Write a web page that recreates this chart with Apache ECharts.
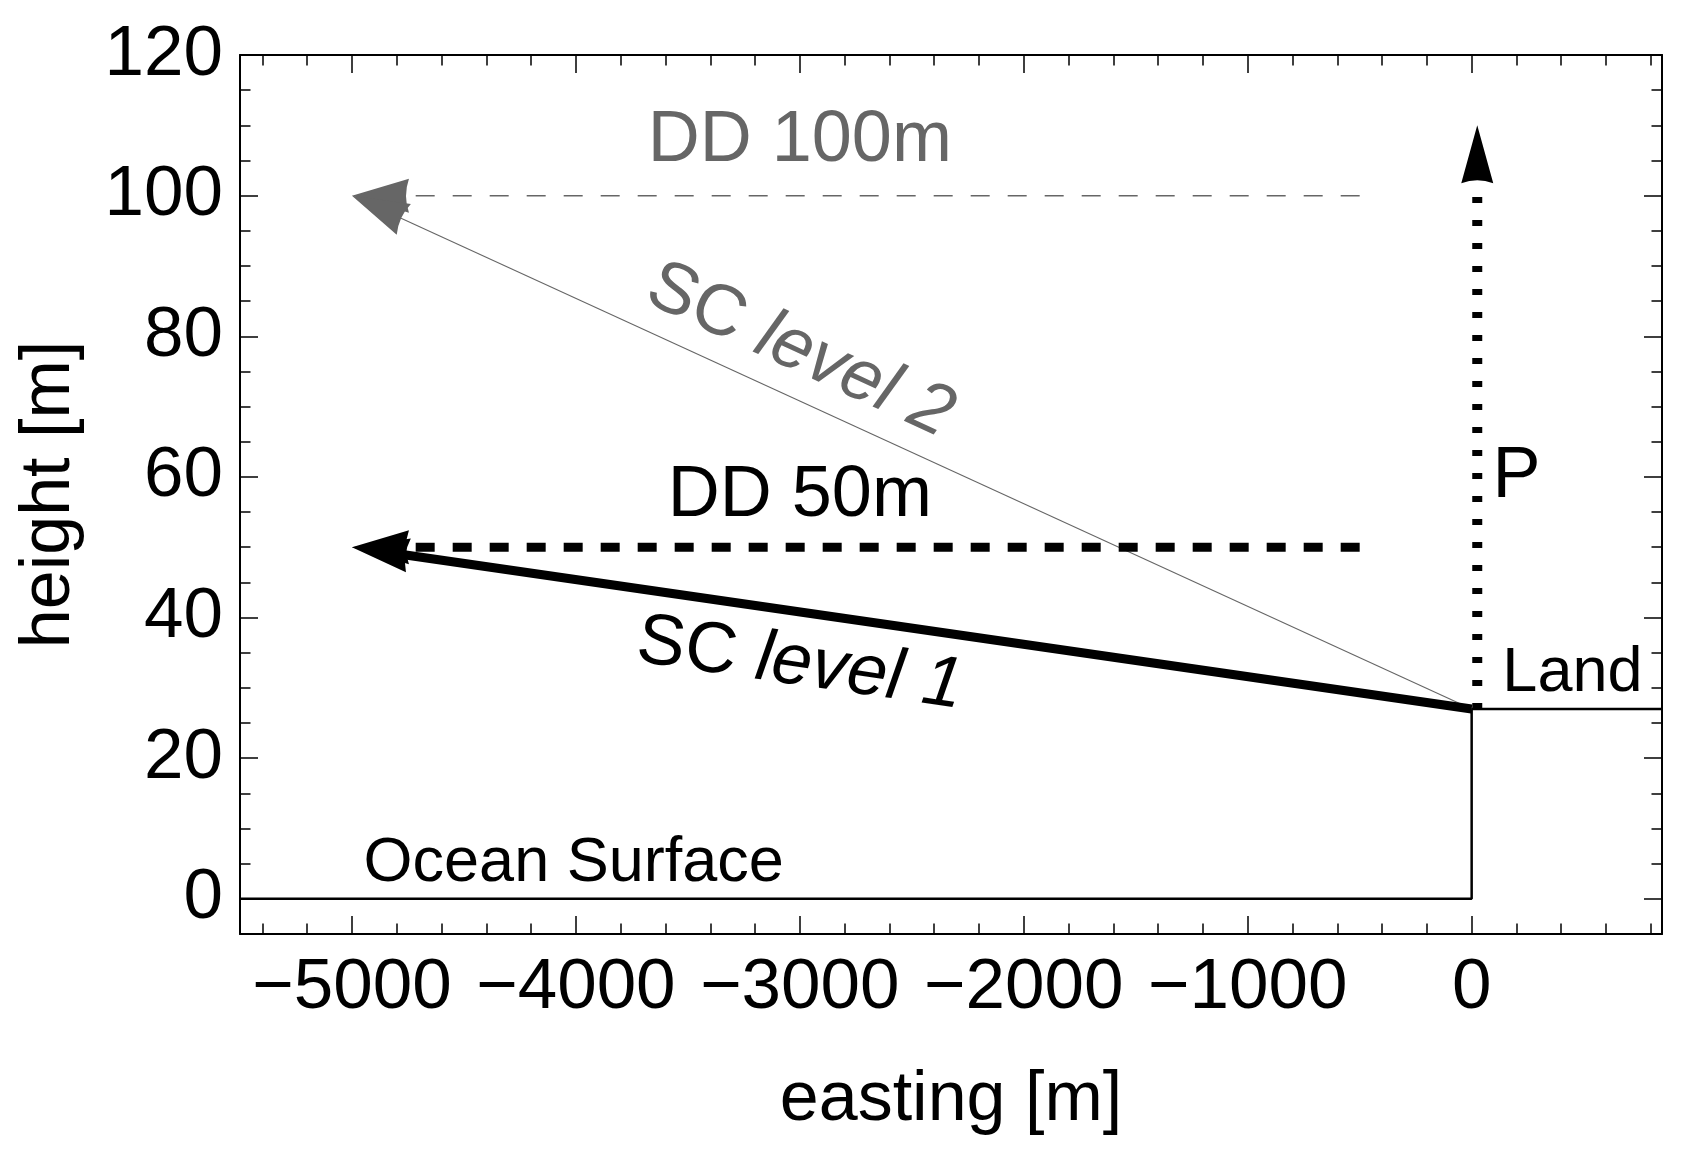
<!DOCTYPE html>
<html>
<head>
<meta charset="utf-8">
<title>height vs easting</title>
<script src="https://cdn.jsdelivr.net/npm/echarts@6/dist/echarts.min.js"></script>
<style>
  html, body { margin: 0; padding: 0; background: #fff; }
  #main { width: 1687px; height: 1156px; }
</style>
</head>
<body>
<div id="main"></div>
<script>
// axis ranges and ticks
var xRange = [-5500, 850];
var yRange = [-5, 120];
var xMajor = [-5000, -4000, -3000, -2000, -1000, 0];
var xMinor = [-5400, -5200, -4800, -4600, -4400, -4200, -3800, -3600, -3400, -3200,
              -2800, -2600, -2400, -2200, -1800, -1600, -1400, -1200, -800, -600,
              -400, -200, 200, 400, 600, 800];
var yMajor = [0, 20, 40, 60, 80, 100, 120];
var yMinor = [5, 10, 15, 25, 30, 35, 45, 50, 55, 65, 70, 75, 85, 90, 95, 105, 110, 115];

// ocean surface -> cliff -> land
var groundX = [-5500, 0, 0, 850];
var groundY = [0, 0, 27, 27];

// arrows, [from, to]
var dd100 = [[-500, 100], [-5000, 100]];
var sc2 = [[0, 27], [-5000, 100]];
var dd50 = [[-500, 50], [-5000, 50]];
var sc1 = [[0, 27], [-5000, 50]];
var pArrow = [[25, 27], [25, 110]];

// annotations
var labelText = ['DD 100m', 'DD 50m', 'SC level 2', 'SC level 1', 'P', 'Land', 'Ocean Surface'];
var labelX = [-3000, -3000, -3000, -3000, 200, 450, -4010];
var labelY = [107.8, 57.3, 77.9, 33.3, 60, 32, 5];

var FONT = '"Liberation Sans", Arial, sans-serif';
var GRAY = '#666666';
var HEAD = 'path://M16,0 L32,58 Q16,52 0,58 Z';

var chart = echarts.init(document.getElementById('main'));

function fmt(v) {
    return v < 0 ? '\u2212' + Math.abs(v) : String(v);
}

function xAxisCfg(position, ticks, tickLen, main) {
    return {
        type: 'value', position: position, min: xRange[0], max: xRange[1],
        name: main && position === 'bottom' ? 'easting [m]' : '',
        nameLocation: 'middle', nameGap: 167,
        nameTextStyle: { fontFamily: FONT, fontSize: 70, color: '#000', verticalAlign: 'middle' },
        axisLine: { show: main, onZero: false, lineStyle: { color: '#000', width: 2 } },
        axisTick: { show: true, inside: true, length: tickLen, customValues: ticks,
                    lineStyle: { color: '#000', width: 1.5 } },
        axisLabel: { show: main && position === 'bottom', customValues: xMajor, formatter: fmt,
                     fontFamily: FONT, fontSize: 71, color: '#000', margin: 19 },
        splitLine: { show: false }
    };
}

function yAxisCfg(position, ticks, tickLen, main) {
    return {
        type: 'value', position: position, min: yRange[0], max: yRange[1],
        name: main && position === 'left' ? 'height [m]' : '',
        nameLocation: 'middle', nameGap: 190,
        nameTextStyle: { fontFamily: FONT, fontSize: 70, color: '#000', verticalAlign: 'middle' },
        axisLine: { show: main, onZero: false, lineStyle: { color: '#000', width: 2 } },
        axisTick: { show: true, inside: true, length: tickLen, customValues: ticks,
                    lineStyle: { color: '#000', width: 1.5 } },
        axisLabel: { show: main && position === 'left', customValues: yMajor,
                     fontFamily: FONT, fontSize: 71, color: '#000', margin: 17 },
        splitLine: { show: false }
    };
}

chart.setOption({
    animation: false,
    backgroundColor: '#fff',
    grid: { left: 240, top: 55, width: 1422, height: 879, containLabel: false },
    xAxis: [
        xAxisCfg('bottom', xMajor, 18, true),
        xAxisCfg('bottom', xMinor, 10.5, false),
        xAxisCfg('top', xMajor, 18, true),
        xAxisCfg('top', xMinor, 10.5, false)
    ],
    yAxis: [
        yAxisCfg('left', yMajor, 18, true),
        yAxisCfg('left', yMinor, 10.5, false),
        yAxisCfg('right', yMajor, 18, true),
        yAxisCfg('right', yMinor, 10.5, false)
    ],
    series: []
});

function toPx(p) {
    return chart.convertToPixel({ xAxisIndex: 0, yAxisIndex: 0 }, p);
}
function toData(p) {
    return chart.convertFromPixel({ xAxisIndex: 0, yAxisIndex: 0 }, p);
}
function geom(a) {
    var p0 = toPx(a[0]), p1 = toPx(a[1]);
    var dx = p1[0] - p0[0], dy = p1[1] - p0[1];
    var len = Math.sqrt(dx * dx + dy * dy);
    return { p0: p0, p1: p1, ux: dx / len, uy: dy / len };
}

var arrowDefs = [
    { d: dd100, color: GRAY, width: 1.5, type: [19, 18], head: [34, 57] },
    { d: sc2, color: GRAY, width: 1.1, type: 'solid', head: [34, 57] },
    { d: dd50, color: '#000', width: 9, type: [19, 18], head: [34, 57] },
    { d: sc1, color: '#000', width: 9, type: 'solid', head: [34, 57] },
    { d: pArrow, color: '#000', width: 10, type: [6, 17], head: [32, 58] }
];

var series = [{
    type: 'line',
    data: groundX.map(function (x, i) { return [x, groundY[i]]; }),
    showSymbol: false, symbol: 'none',
    lineStyle: { color: '#000', width: 2.5 },
    z: 3
}];

arrowDefs.forEach(function (a, k) {
    var g = geom(a.d);
    var h = a.head[1];
    // stop the shaft inside the arrowhead
    var endPx = [g.p1[0] - g.ux * h * 0.8, g.p1[1] - g.uy * h * 0.8];
    series.push({
        type: 'line',
        data: [a.d[0], toData(endPx)],
        showSymbol: false, symbol: 'none',
        lineStyle: { color: a.color, width: a.width, type: a.type, cap: 'butt', opacity: 1 },
        z: 4 + k
    });
    series.push({
        type: 'scatter',
        data: [a.d[1]],
        symbol: HEAD,
        symbolSize: a.head,
        symbolKeepAspect: false,
        symbolRotate: Math.atan2(-g.uy, g.ux) * 180 / Math.PI - 90,
        symbolOffset: [-g.ux * h / 2, -g.uy * h / 2],
        itemStyle: { color: a.color, opacity: 1 },
        z: 4 + k
    });
});

function slopeDeg(a) {
    var g = geom(a);
    return Math.atan2(-(g.p0[1] - g.p1[1]), g.p0[0] - g.p1[0]) * 180 / Math.PI;
}

var labelStyle = {
    'DD 100m': { color: GRAY, size: 72 },
    'DD 50m': { color: '#000', size: 72 },
    'SC level 2': { color: GRAY, size: 72, rotate: slopeDeg(sc2), rich: true },
    'SC level 1': { color: '#000', size: 72, rotate: slopeDeg(sc1), rich: true },
    'P': { color: '#000', size: 72 },
    'Land': { color: '#000', size: 63 },
    'Ocean Surface': { color: '#000', size: 63 }
};

series.push({
    type: 'scatter',
    symbolSize: 1,
    itemStyle: { color: 'rgba(0,0,0,0)', opacity: 1 },
    z: 10,
    data: labelText.map(function (t, i) {
        var s = labelStyle[t];
        var parts = t.split(' ');
        return {
            value: [labelX[i], labelY[i]],
            label: {
                show: true,
                position: 'inside',
                align: 'center',
                verticalAlign: 'middle',
                rotate: s.rotate || 0,
                opacity: 1,
                formatter: s.rich ? '{u|' + parts[0] + '} {i|' + parts.slice(1).join(' ') + '}' : t,
                fontFamily: FONT,
                fontSize: s.size,
                color: s.color,
                rich: {
                    u: { fontFamily: FONT, fontSize: s.size, color: s.color, fontStyle: 'normal' },
                    i: { fontFamily: FONT, fontSize: s.size, color: s.color, fontStyle: 'italic' }
                }
            }
        };
    })
});

chart.setOption({ series: series });
</script>
</body>
</html>
